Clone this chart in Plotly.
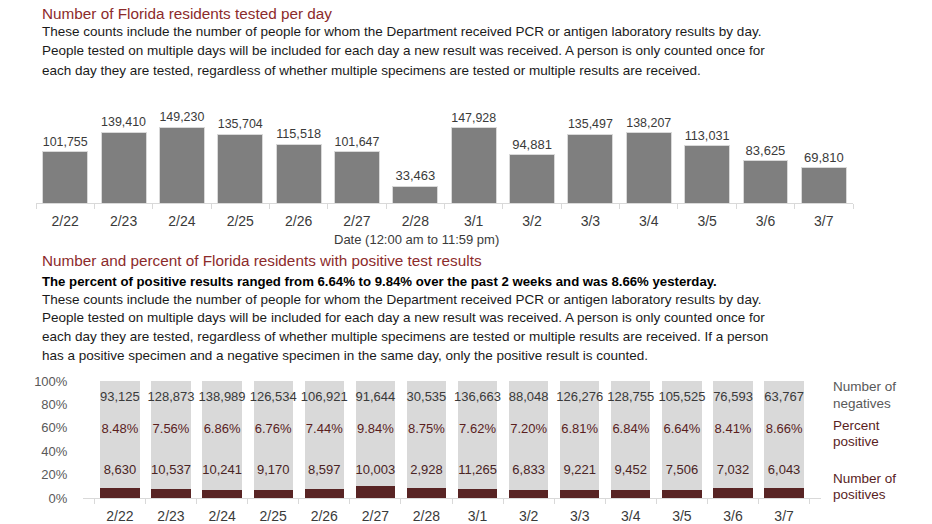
import plotly.graph_objects as go

dates = ["2/22", "2/23", "2/24", "2/25", "2/26", "2/27", "2/28",
         "3/1", "3/2", "3/3", "3/4", "3/5", "3/6", "3/7"]
tested = [101755, 139410, 149230, 135704, 115518, 101647, 33463,
          147928, 94881, 135497, 138207, 113031, 83625, 69810]
negatives = [93125, 128873, 138989, 126534, 106921, 91644, 30535,
             136663, 88048, 126276, 128755, 105525, 76593, 63767]
positives = [8630, 10537, 10241, 9170, 8597, 10003, 2928,
             11265, 6833, 9221, 9452, 7506, 7032, 6043]
pct_text = ["8.48%", "7.56%", "6.86%", "6.76%", "7.44%", "9.84%", "8.75%",
            "7.62%", "7.20%", "6.81%", "6.84%", "6.64%", "8.41%", "8.66%"]
pct_ticks = [0, 0.2, 0.4, 0.6, 0.8, 1.0]
pct_tick_labels = ["0%", "20%", "40%", "60%", "80%", "100%"]

title1 = "Number of Florida residents tested per day"
desc1 = [
    "These counts include the number of people for whom the Department received PCR or antigen laboratory results by day.",
    "People tested on multiple days will be included for each day a new result was received. A person is only counted once for",
    "each day they are tested, regardless of whether multiple specimens are tested or multiple results are received.",
]
xtitle1 = "Date (12:00 am to 11:59 pm)"
title2 = "Number and percent of Florida residents with positive test results"
bold2 = "The percent of positive results ranged from 6.64% to 9.84% over the past 2 weeks and was 8.66% yesterday."
desc2 = [
    "These counts include the number of people for whom the Department received PCR or antigen laboratory results by day.",
    "People tested on multiple days will be included for each day a new result was received. A person is only counted once for",
    "each day they are tested, regardless of whether multiple specimens are tested or multiple results are received. If a person",
    "has a positive specimen and a negative specimen in the same day, only the positive result is counted.",
]

W, H = 932, 524
FONT = "Liberation Sans, Arial, sans-serif"
RED_T = "#8c2b2b"
DARK_RED = "#5a1e1e"
GRAY_T = "#3a3a3a"

def py(px):
    return 1 - px / H

def pxx(px):
    return px / W

totals = [p + n for p, n in zip(positives, negatives)]
pos_frac = [p / t for p, t in zip(positives, totals)]
neg_frac = [n / t for n, t in zip(negatives, totals)]

fig = go.Figure()

# Top chart
fig.add_trace(go.Bar(
    x=dates, y=tested, xaxis="x", yaxis="y",
    marker=dict(color="#7f7f7f", line=dict(color="#d9d9d9", width=1)),
    text=[f"{v:,}" for v in tested], textposition="outside",
    textfont=dict(family=FONT, size=13, color=GRAY_T),
    cliponaxis=False, showlegend=False, hoverinfo="skip",
))

# Bottom chart stacked
fig.add_trace(go.Bar(
    x=dates, y=pos_frac, xaxis="x2", yaxis="y2",
    marker=dict(color="#582424", line=dict(width=0)),
    showlegend=False, hoverinfo="skip",
))
fig.add_trace(go.Bar(
    x=dates, y=neg_frac, xaxis="x2", yaxis="y2",
    marker=dict(color="#d9d9d9", line=dict(width=0)),
    showlegend=False, hoverinfo="skip",
))
fig.add_trace(go.Scatter(
    x=dates, y=[0.855] * len(dates), xaxis="x2", yaxis="y2", mode="text",
    text=[f"{v:,}" for v in negatives],
    textfont=dict(family=FONT, size=13, color=GRAY_T),
    showlegend=False, hoverinfo="skip", cliponaxis=False,
))
fig.add_trace(go.Scatter(
    x=dates, y=[0.58] * len(dates), xaxis="x2", yaxis="y2", mode="text",
    text=pct_text,
    textfont=dict(family=FONT, size=13, color=DARK_RED),
    showlegend=False, hoverinfo="skip", cliponaxis=False,
))
fig.add_trace(go.Scatter(
    x=dates, y=[0.23] * len(dates), xaxis="x2", yaxis="y2", mode="text",
    text=[f"{v:,}" for v in positives],
    textfont=dict(family=FONT, size=13, color="#4a2424"),
    showlegend=False, hoverinfo="skip", cliponaxis=False,
))

axis_common = dict(
    type="category", showline=True, linecolor="#d9d9d9", linewidth=1,
    ticks="outside", tickson="boundaries", ticklen=5, tickcolor="#d9d9d9",
    ticklabelstandoff=5,
    tickfont=dict(family=FONT, size=14, color=GRAY_T), showgrid=False,
    zeroline=False, automargin=False,
)

fig.update_layout(
    width=W, height=H, margin=dict(l=0, r=0, t=0, b=0, pad=0),
    paper_bgcolor="white", plot_bgcolor="white",
    barmode="stack", bargap=0.23,
    xaxis=dict(domain=[pxx(36), pxx(853)], anchor="y", **axis_common),
    yaxis=dict(domain=[py(203), py(100)], range=[0, 203000], visible=False,
               anchor="x", automargin=False),
    xaxis2=dict(domain=[pxx(83), pxx(821)], anchor="y2", **axis_common),
    yaxis2=dict(domain=[py(498), py(381)], range=[0, 1], anchor="x2",
                tickvals=pct_ticks, ticktext=pct_tick_labels,
                ticks="outside", ticklen=12, tickcolor="rgba(0,0,0,0)",
                tickfont=dict(family=FONT, size=13, color="#595959"),
                showgrid=False, zeroline=False, showline=False,
                automargin=False),
    font=dict(family=FONT),
)

ann = []
def txt(x, y, s, size, color, bold=False, xanchor="left"):
    ann.append(dict(x=pxx(x), y=py(y), xref="paper", yref="paper", text=(f"<b>{s}</b>" if bold else s),
                    showarrow=False, xanchor=xanchor, yanchor="middle",
                    font=dict(family=FONT, size=size, color=color)))

txt(40, 13, title1, 15.3, RED_T)
for i, line in enumerate(desc1):
    txt(40, 32 + i * 19, line, 13.5, "#1a1a1a")
txt(416, 239, xtitle1, 13, GRAY_T, xanchor="center")
txt(40, 260, title2, 15.3, RED_T)
txt(40, 281, bold2, 13.2, "#000000", bold=True)
for i, line in enumerate(desc2):
    txt(40, 299 + i * 18.7, line, 13.5, "#1a1a1a")

txt(831, 386, "Number of", 13.5, "#595959")
txt(831, 403, "negatives", 13.5, "#595959")
txt(831, 425, "Percent", 13.5, DARK_RED)
txt(831, 441, "positive", 13.5, DARK_RED)
txt(831, 478, "Number of", 13.5, DARK_RED)
txt(831, 494, "positives", 13.5, DARK_RED)

fig.update_layout(annotations=ann)
fig.write_html("out.html",
               post_script="document.body.style.margin='0';document.body.style.overflow='hidden';",
               config={"displayModeBar": False})
